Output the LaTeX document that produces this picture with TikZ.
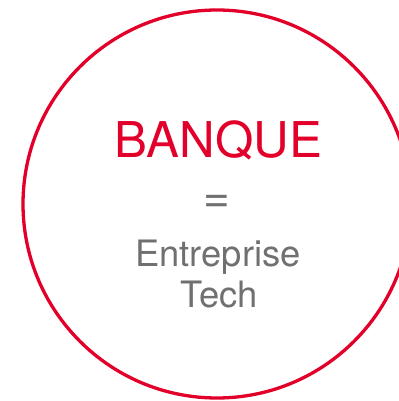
\documentclass[tikz,border=0pt]{standalone}
\usepackage{fontspec}
\setmainfont{TeX Gyre Heros}
\usetikzlibrary{positioning}
\definecolor{rougebanque}{RGB}{226,0,42}
\definecolor{grisbanque}{RGB}{112,112,112}
\tikzset{
  titre/.style={anchor=base, text=rougebanque, font=\fontsize{49.5}{49.5}\selectfont, inner sep=0pt},
  soustitre/.style={anchor=base, text=grisbanque, font=\fontsize{36.5}{36.5}\selectfont, inner sep=0pt}
}
\begin{document}
\begin{tikzpicture}[x=1bp, y=1bp]
  \useasboundingbox (0,0) rectangle (399,401);
  \clip (0,0) rectangle (399,401);

  \node [draw=rougebanque, line width=3.3bp, circle, minimum size=388bp, inner sep=0pt] (cercle) at (217,197) {};

  \node [titre] (banque) at (218.5,244) {BANQUE};
  \node [soustitre, anchor=center, font=\fontsize{46}{46}\selectfont] (egal) at (217,197) {=};
  \node [soustitre] (entreprise) at (218,135) {Entreprise};
  \node [soustitre] (tech) at (219,94) {Tech};
\end{tikzpicture}
\end{document}
